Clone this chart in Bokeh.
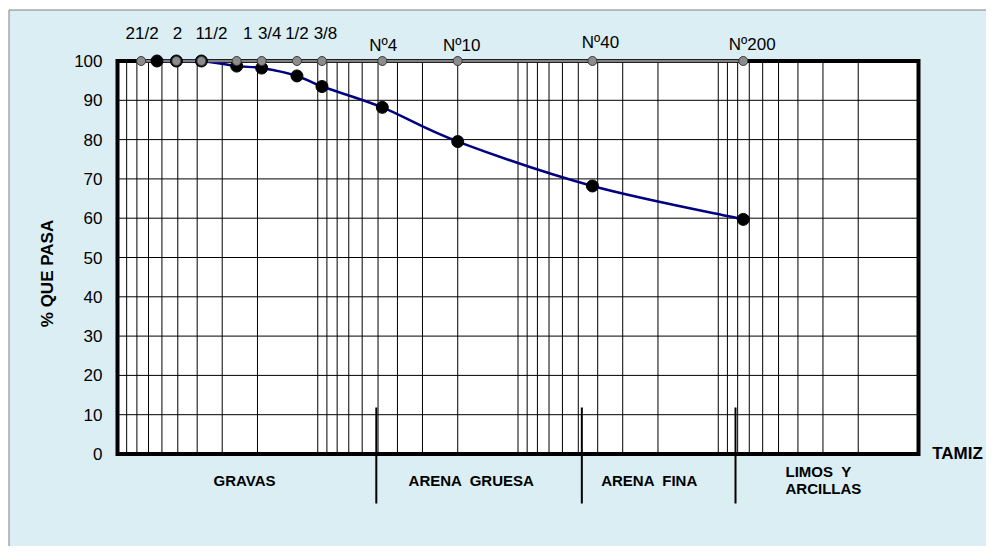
import math
from bokeh.plotting import figure
from bokeh.models import Range1d, FixedTicker
from bokeh.core.properties import value
from bokeh.embed import file_html
from bokeh.resources import INLINE

# ---------------- data ----------------
sieve_labels = ["21/2", "2", "11/2", "1", "3/4", "1/2", "3/8", "Nº4", "Nº10", "Nº40", "Nº200"]
sieve_mm = [76.2, 50.8, 38.1, 25.4, 19.05, 12.7, 9.525, 4.76, 2.0, 0.425, 0.075]
test_mm = [63.5, 50.8, 38.1, 25.4, 19.05, 12.7, 9.525, 4.76, 2.0, 0.425, 0.075]
pct_passing = [100, 100, 100, 98.7, 98.2, 96.2, 93.5, 88.2, 79.5, 68.2, 59.7]
zone_names = ["GRAVAS", "ARENA \u00a0GRUESA", "ARENA \u00a0FINA", "LIMOS \u00a0Y", "ARCILLAS"]
zone_bounds_mm = [5.1, 0.48, 0.082]
pct_ticks = [0, 10, 20, 30, 40, 50, 60, 70, 80, 90, 100]
size_max, size_min = 100.0, 0.01
y_title = "% QUE PASA"
x_title = "TAMIZ"

# ---------------- layout helpers (canvas pixels -> data) ----------------
X0, DEC = 117.0, 200.25      # canvas x of 100 mm, px per decade
Y0, UNIT = 453.5, 3.93       # canvas y of 0 %, px per %
W, H = 986, 546


def mm_at(px):
    return 10 ** (2 - (px - X0) / DEC)


def pct_at(py):
    return (Y0 - py) / UNIT


BG = "#DAEEF3"
FONT = value("Liberation Sans")

p = figure(width=W, height=H, x_axis_type="log", x_axis_location=None,
           x_range=Range1d(mm_at(0), mm_at(W)),
           y_range=Range1d(pct_at(H), pct_at(0)),
           output_backend="svg", toolbar_location=None,
           min_border_left=0, min_border_right=0, min_border_top=0, min_border_bottom=0)
p.background_fill_color = "white"
p.border_fill_color = "white"
p.outline_line_color = None
for g in p.grid:
    g.visible = False
    g.grid_line_color = None

ax = p.yaxis[0]
ax.fixed_location = size_max
ax.ticker = FixedTicker(ticks=pct_ticks)
ax.axis_line_color = None
ax.major_tick_line_color = None
ax.minor_tick_line_color = None
ax.major_tick_out = 0
ax.major_tick_in = 0
ax.major_label_standoff = 15
ax.major_label_text_font = "Liberation Sans"
ax.major_label_text_font_size = "17px"
ax.major_label_text_color = "black"
ax.axis_label = y_title
ax.axis_label_text_font = "Liberation Sans"
ax.axis_label_text_font_size = "17px"
ax.axis_label_text_font_style = "bold"
ax.axis_label_text_color = "black"
ax.axis_label_standoff = 14

lo, hi = pct_ticks[0], pct_ticks[-1]

# outer light-blue panel with grey border
p.quad(left=mm_at(8.5), right=mm_at(W + 50), bottom=pct_at(H + 50), top=pct_at(9.5),
       fill_color=BG, line_color="#808080", line_width=1, level="underlay")

# plot area
p.quad(left=size_max, right=size_min, bottom=lo, top=hi, fill_color="white", line_color=None)

# log grid
grid_mm = [k * 10.0 ** e for e in range(-2, 2) for k in range(1, 10)]
p.segment(x0=grid_mm, y0=[lo] * len(grid_mm), x1=grid_mm, y1=[hi] * len(grid_mm),
          line_color="black", line_width=1)
inner = pct_ticks[1:-1]
p.segment(x0=[size_max] * len(inner), y0=inner, x1=[size_min] * len(inner), y1=inner,
          line_color="black", line_width=1)

# frame border
p.quad(left=size_max, right=size_min, bottom=lo, top=hi, fill_color=None,
       line_color="black", line_width=4, line_join="miter")

# smooth curve (Catmull-Rom -> cubic Bezier in log-x space)
L = [math.log10(v) for v in test_mm]
V = pct_passing
n = len(L)
bx0, by0, bx1, by1, c0x, c0y, c1x, c1y = [], [], [], [], [], [], [], []
for i in range(n - 1):
    i0, i3 = max(i - 1, 0), min(i + 2, n - 1)
    bx0.append(10 ** L[i]); by0.append(V[i])
    bx1.append(10 ** L[i + 1]); by1.append(V[i + 1])
    c0x.append(10 ** (L[i] + (L[i + 1] - L[i0]) / 6)); c0y.append(V[i] + (V[i + 1] - V[i0]) / 6)
    c1x.append(10 ** (L[i + 1] - (L[i3] - L[i]) / 6)); c1y.append(V[i + 1] - (V[i3] - V[i]) / 6)
p.bezier(x0=bx0, y0=by0, x1=bx1, y1=by1, cx0=c0x, cy0=c0y, cx1=c1x, cy1=c1y,
         line_color="#000080", line_width=2.5)

# sieve reference line and markers
p.line(sieve_mm, [hi] * len(sieve_mm), line_color="#808080", line_width=2.5)
p.scatter(test_mm, pct_passing, size=12, fill_color="black", line_color="black")
p.scatter(sieve_mm, [hi] * len(sieve_mm), size=9, fill_color="#8c8c8c",
          line_color="#3a3a3a", line_width=1)

# sieve labels
label_dx = [1, 1, 10, 11, 8, 0, 3.5, 1, 4, 8, 9]
label_py = [32.5] * 7 + [45, 45, 41.7, 44]
p.text(x=sieve_mm, y=[pct_at(v) for v in label_py], text=sieve_labels, x_offset=label_dx,
       text_font=FONT, text_font_size="17px", text_color="black",
       text_align="center", text_baseline="middle")

# zone dividers
p.segment(x0=zone_bounds_mm, y0=[pct_at(407)] * 3, x1=zone_bounds_mm, y1=[pct_at(503)] * 3,
          line_color="black", line_width=2)

# zone labels
zx = [244, 471, 649]
p.text(x=[mm_at(v) for v in zx], y=[pct_at(480)] * 3, text=zone_names[:3],
       text_font=FONT, text_font_size="15px", text_font_style="bold", text_color="black",
       text_align="center", text_baseline="middle")
p.text(x=[mm_at(785)] * 2, y=[pct_at(470.7), pct_at(488.3)], text=zone_names[3:],
       text_font=FONT, text_font_size="15px", text_font_style="bold", text_color="black",
       text_align="left", text_baseline="middle")
p.text(x=[mm_at(957)], y=[pct_at(453)], text=[x_title],
       text_font=FONT, text_font_size="17px", text_font_style="bold", text_color="black",
       text_align="center", text_baseline="middle")

open("out.html", "w").write(file_html(p, INLINE))
